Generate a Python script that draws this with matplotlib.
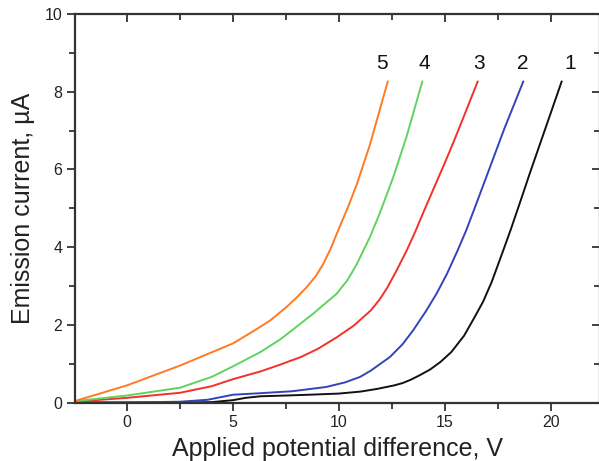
import matplotlib.pyplot as plt
from matplotlib.ticker import MultipleLocator

plt.rcParams['font.family'] = ['Liberation Sans', 'DejaVu Sans']

# data (voltage V, current uA)
v1 = [-2.5, 2.5, 4.0, 5.0, 5.6, 6.3, 7.5, 8.6, 10.0, 11.0, 11.8, 12.6, 13.0, 13.4, 13.8, 14.3, 14.8, 15.3, 15.9, 16.4, 16.8, 17.2, 17.75, 18.1, 18.6, 19.0, 19.7, 20.5]
i1 = [0.0, 0.0, 0.01, 0.06, 0.12, 0.16, 0.18, 0.2, 0.23, 0.28, 0.35, 0.44, 0.5, 0.59, 0.7, 0.85, 1.05, 1.3, 1.72, 2.2, 2.6, 3.1, 3.92, 4.45, 5.25, 5.9, 7.0, 8.26]

v2 = [-2.5, 0.0, 2.5, 3.8, 5.0, 6.3, 7.8, 9.4, 10.3, 11.0, 11.5, 12.4, 13.0, 13.5, 14.1, 14.6, 15.1, 15.6, 16.0, 16.5, 17.0, 17.8, 18.69]
i2 = [0.0, 0.0, 0.02, 0.07, 0.2, 0.24, 0.29, 0.4, 0.52, 0.66, 0.82, 1.17, 1.5, 1.86, 2.35, 2.8, 3.32, 3.92, 4.43, 5.15, 5.88, 7.05, 8.26]

v3 = [-2.5, 0.0, 2.5, 4.0, 5.0, 6.3, 7.2, 8.2, 9.0, 9.9, 10.7, 11.5, 11.9, 12.25, 12.7, 13.2, 13.6, 14.0, 14.5, 15.0, 15.4, 15.9, 16.54]
i3 = [0.02, 0.12, 0.25, 0.42, 0.6, 0.8, 0.97, 1.17, 1.38, 1.68, 1.98, 2.37, 2.64, 2.93, 3.38, 3.92, 4.4, 4.92, 5.55, 6.18, 6.7, 7.38, 8.26]

v4 = [-2.5, 0.0, 2.5, 4.0, 5.0, 6.3, 7.22, 7.53, 8.79, 9.89, 10.4, 10.83, 11.46, 11.93, 12.56, 13.19, 13.93]
i4 = [0.03, 0.18, 0.38, 0.66, 0.93, 1.3, 1.62, 1.75, 2.29, 2.8, 3.15, 3.55, 4.26, 4.88, 5.8, 6.85, 8.26]

v5 = [-2.5, 0.0, 2.5, 5.0, 6.0, 6.75, 7.53, 8.0, 8.48, 8.9, 9.26, 9.6, 9.9, 10.44, 10.85, 11.45, 12.3]
i5 = [0.03, 0.44, 0.95, 1.52, 1.85, 2.11, 2.46, 2.7, 2.97, 3.25, 3.57, 3.95, 4.35, 5.05, 5.63, 6.62, 8.26]

curves = [(v1, i1, '#111111', '1', 20.9),
          (v2, i2, '#3344b8', '2', 18.65),
          (v3, i3, '#f2312a', '3', 16.62),
          (v4, i4, '#5fd35f', '4', 14.01),
          (v5, i5, '#ff7a22', '5', 12.02)]

fig = plt.figure(figsize=(5.99, 4.61), dpi=100)
ax = fig.add_axes([75 / 599, 1 - 402.5 / 461, 525 / 599, 388.5 / 461])

for v, i, c, lab, lx in curves:
    ax.plot(v, i, color=c, lw=1.4, solid_joinstyle='round')
    ax.text(lx, 8.72, lab, fontsize=15, ha='center', va='center', color='#111111')

ax.set_xlim(-2.45, 22.31)
ax.set_ylim(0, 10)

ax.xaxis.set_major_locator(MultipleLocator(5))
ax.xaxis.set_minor_locator(MultipleLocator(2.5))
ax.yaxis.set_major_locator(MultipleLocator(2))
ax.yaxis.set_minor_locator(MultipleLocator(1))

axc = '#333333'
for s in ax.spines.values():
    s.set_linewidth(1.6)
    s.set_color(axc)
    s.set_clip_on(False)

ax.tick_params(which='both', direction='out', color=axc, width=1.3, labelsize=11.5,
               labelcolor='#222222', top=True, right=True)
ax.tick_params(which='major', length=5.5)
ax.tick_params(which='minor', length=4)
# top and right ticks point inward, no labels
ax.xaxis.set_tick_params(which='both', labeltop=False)
ax.yaxis.set_tick_params(which='both', labelright=False)
for t in ax.xaxis.get_major_ticks() + ax.xaxis.get_minor_ticks():
    t.tick2line.set_marker(3)
for t in ax.yaxis.get_major_ticks() + ax.yaxis.get_minor_ticks():
    t.tick2line.set_marker(0)

ax.set_xlabel('Applied potential difference, V', fontsize=18, color='#222222', labelpad=5)
ax.set_ylabel('Emission current, µA', fontsize=18, color='#222222', labelpad=7)

plt.savefig('out.png', dpi=100)
